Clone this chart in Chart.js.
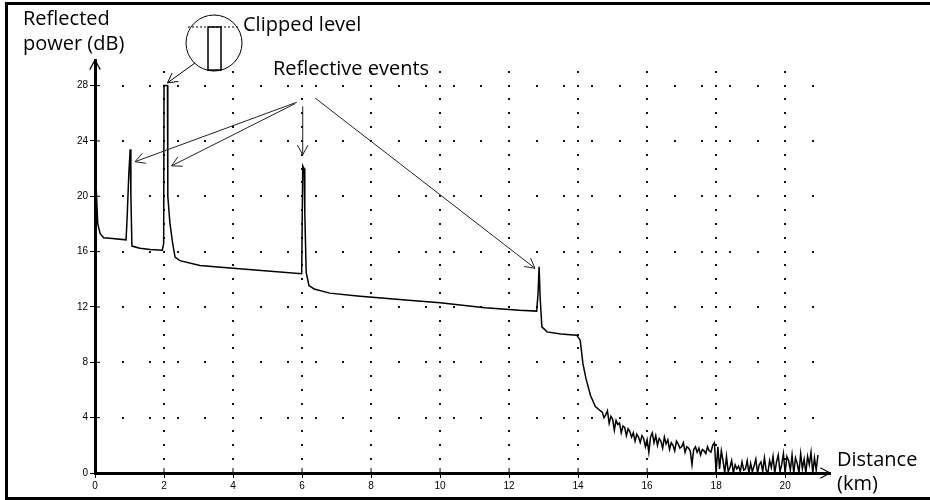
<!DOCTYPE html>
<html>
<head>
<meta charset="utf-8">
<title>OTDR trace</title>
<script src="https://cdn.jsdelivr.net/npm/chart.js@4.4.0/dist/chart.umd.min.js"></script>
<style>
    html, body { margin: 0; padding: 0; background: #fff; }
</style>
</head>
<body>
<canvas id="otdrChart" width="930" height="500"></canvas>
<script>
// Trace: distance (km) / reflected power (dB)
const traceKm = [0.00, 0.03, 0.08, 0.15, 0.25, 0.50, 0.90, 0.93, 0.98, 1.02, 1.04, 1.07, 1.30, 1.60, 1.95, 1.99,
    2.00, 2.10, 2.11, 2.17, 2.25, 2.32, 2.46, 3.04, 4.00, 5.00, 5.99, 6.02, 6.06, 6.08, 6.12, 6.20, 6.35, 6.80,
    7.60, 9.00, 10.00, 11.30, 12.30, 12.80, 12.84, 12.87, 12.90, 12.95, 13.10, 13.50, 13.96, 14.06, 14.14,
    14.23, 14.36, 14.50, 14.64];
const traceDb = [22.2, 20.9, 18.0, 17.3, 17.0, 16.95, 16.85, 18.4, 21.6, 23.4, 20.0, 16.4, 16.25, 16.15, 16.1, 16.6,
    28.0, 28.0, 20.0, 18.1, 16.6, 15.6, 15.35, 15.0, 14.8, 14.6, 14.4, 22.2, 22.0, 18.8, 14.5, 13.55, 13.3, 13.0,
    12.8, 12.5, 12.3, 11.95, 11.76, 11.7, 13.0, 14.9, 12.7, 10.56, 10.2, 10.05, 9.96, 9.6, 7.9,
    6.8, 5.6, 4.8, 4.5];

// Noisy tail after the fibre end
const noiseKm = [
    14.70, 14.75, 14.80, 14.85, 14.90, 14.95, 15.00, 15.05, 15.10, 15.15,
    15.20, 15.25, 15.30, 15.35, 15.40, 15.45, 15.50, 15.55, 15.60, 15.65,
    15.70, 15.75, 15.80, 15.85, 15.90, 15.95, 16.00, 16.05, 16.10, 16.15,
    16.20, 16.25, 16.30, 16.35, 16.40, 16.45, 16.50, 16.55, 16.60, 16.65,
    16.70, 16.75, 16.80, 16.85, 16.90, 16.95, 17.00, 17.05, 17.10, 17.15,
    17.20, 17.25, 17.30, 17.35, 17.40, 17.45, 17.50, 17.55, 17.60, 17.65,
    17.70, 17.75, 17.80, 17.85, 17.90, 17.95, 18.00, 18.05, 18.10, 18.15,
    18.20, 18.25, 18.30, 18.35, 18.40, 18.45, 18.50, 18.55, 18.60, 18.65,
    18.70, 18.75, 18.80, 18.85, 18.90, 18.95, 19.00, 19.05, 19.10, 19.15,
    19.20, 19.25, 19.30, 19.35, 19.40, 19.45, 19.50, 19.55, 19.60, 19.65,
    19.70, 19.75, 19.80, 19.85, 19.90, 19.95, 20.00, 20.05, 20.10, 20.15,
    20.20, 20.25, 20.30, 20.35, 20.40, 20.45, 20.50, 20.55, 20.60, 20.65,
    20.70, 20.75, 20.80, 20.85, 20.90, 20.95];
const noiseDb = [
    4.4, 4.0, 4.2, 4.5, 3.6, 4.1, 3.9, 3.1, 3.8, 3.5,
    3.6, 2.9, 3.4, 3.3, 2.7, 3.2, 3.0, 2.6, 2.9, 2.3,
    2.8, 2.6, 2.2, 2.7, 2.5, 1.9, 2.4, 1.5, 2.6, 2.9,
    2.2, 2.7, 2.0, 2.5, 2.3, 1.8, 2.6, 2.1, 2.4, 1.7,
    2.2, 2.0, 1.6, 2.3, 2.1, 1.8, 1.9, 2.2, 1.5, 1.9,
    1.8, 1.6, 0.6, 1.7, 1.9, 1.5, 1.8, 1.3, 1.7, 1.6,
    1.4, 1.9, 1.6, 1.5, 2.0, 2.2, 0.0, 1.9, 0.3, 1.6,
    0.9, 0.0, 1.2, 0.1, 0.4, 0.9, 0.0, 0.6, 0.3, 0.5,
    0.1, 0.8, 0.2, 0.3, 0.9, 0.0, 0.7, 0.1, 0.5, 1.0,
    0.0, 0.6, 0.8, 0.1, 1.1, 0.2, 0.0, 0.9, 0.4, 1.2,
    0.0, 0.8, 1.3, 0.1, 0.6, 1.4, 0.0, 1.2, 0.9, 0.2,
    1.3, 0.0, 1.1, 0.7, 0.0, 1.4, 0.3, 1.0, 0.0, 1.2,
    0.6, 1.5, 0.0, 1.1, 0.2, 1.3];

const xTicks = [0, 2, 4, 6, 8, 10, 12, 14, 16, 18, 20];
const yTicks = [0, 4, 8, 12, 16, 20, 24, 28];

// Callout arrows (in km / dB)
const eventArrows = [
    { from: [5.85, 26.8], to: [1.16, 22.5] },
    { from: [5.80, 26.7], to: [2.22, 22.2] },
    { from: [6.02, 26.5], to: [6.02, 23.0] },
    { from: [6.38, 27.1], to: [12.75, 14.8] }
];

const traceData = traceKm.map((km, i) => ({ x: km, y: traceDb[i] }))
    .concat(noiseKm.map((km, i) => ({ x: km, y: noiseDb[i] })));

function arrowHead(ctx, x1, y1, x2, y2, len) {
    const ang = Math.atan2(y2 - y1, x2 - x1);
    ctx.beginPath();
    ctx.moveTo(x2 - len * Math.cos(ang - 0.5), y2 - len * Math.sin(ang - 0.5));
    ctx.lineTo(x2, y2);
    ctx.lineTo(x2 - len * Math.cos(ang + 0.5), y2 - len * Math.sin(ang + 0.5));
    ctx.stroke();
}

function arrow(ctx, x1, y1, x2, y2) {
    ctx.beginPath();
    ctx.moveTo(x1, y1);
    ctx.lineTo(x2, y2);
    ctx.stroke();
    arrowHead(ctx, x1, y1, x2, y2, 11);
}

// dotted grid like the OTDR screen
const dotGrid = {
    id: 'dotGrid',
    beforeDatasetsDraw(chart) {
        const ctx = chart.ctx;
        const xs = chart.scales.x, ys = chart.scales.y;
        ctx.save();
        ctx.fillStyle = '#111';
        const dot = (px, py) => ctx.fillRect(Math.round(px) - 1, Math.round(py) - 1, 2, 2);
        xTicks.forEach(km => {
            if (km === 0) return;
            for (let db = 1; db <= 29; db++) dot(xs.getPixelForValue(km), ys.getPixelForValue(db));
        });
        yTicks.forEach(db => {
            if (db === 0) return;
            for (let k = 1; k * 0.8 <= 20.9; k++) dot(xs.getPixelForValue(k * 0.8), ys.getPixelForValue(db));
        });
        ctx.restore();
    }
};

const decorations = {
    id: 'decorations',
    afterDraw(chart) {
        const ctx = chart.ctx;
        const xs = chart.scales.x, ys = chart.scales.y;
        const area = chart.chartArea;
        const px = km => xs.getPixelForValue(km);
        const py = db => ys.getPixelForValue(db);
        ctx.save();
        ctx.strokeStyle = '#000';
        ctx.lineWidth = 1;

        // inner half of tick marks
        yTicks.forEach(v => {
            if (v === 0) return;
            ctx.beginPath();
            ctx.moveTo(area.left, py(v));
            ctx.lineTo(area.left + 5, py(v));
            ctx.stroke();
        });
        xTicks.forEach(v => {
            if (v === 0) return;
            ctx.beginPath();
            ctx.moveTo(px(v), area.bottom);
            ctx.lineTo(px(v), area.bottom - 5);
            ctx.stroke();
        });

        // axis arrows
        ctx.lineWidth = 1.2;
        arrowHead(ctx, area.left, area.top + 20, area.left, area.top, 11);
        arrowHead(ctx, area.right - 20, area.bottom, area.right, area.bottom, 11);

        // event callouts
        ctx.lineWidth = 1;
        ctx.strokeStyle = '#222';
        eventArrows.forEach(a => arrow(ctx, px(a.from[0]), py(a.from[1]), px(a.to[0]), py(a.to[1])));

        // clipped level magnifier
        ctx.strokeStyle = '#000';
        ctx.beginPath();
        ctx.arc(214, 43, 28, 0, Math.PI * 2);
        ctx.stroke();
        ctx.setLineDash([2, 2]);
        ctx.beginPath();
        ctx.moveTo(188, 27);
        ctx.lineTo(240, 27);
        ctx.stroke();
        ctx.setLineDash([]);
        ctx.lineWidth = 1.5;
        ctx.strokeRect(208, 27, 13, 43);
        ctx.lineWidth = 1;
        arrow(ctx, 195, 63, px(2.1), py(28.2));

        // texts
        ctx.fillStyle = '#000';
        ctx.font = '20px "Open Sans"';
        ctx.textAlign = 'left';
        ctx.textBaseline = 'alphabetic';
        ctx.fillText('Reflected', 23, 25);
        ctx.fillText('power (dB)', 23, 50);
        ctx.fillText('Clipped level', 243, 31);
        ctx.fillText('Reflective events', 273, 75);
        ctx.fillText('Distance', 837, 466);
        ctx.fillText('(km)', 837, 490);

        // outer frame
        ctx.lineWidth = 3;
        ctx.beginPath();
        ctx.moveTo(6.5, 500);
        ctx.lineTo(6.5, 3.5);
        ctx.lineTo(930, 3.5);
        ctx.moveTo(5, 498.5);
        ctx.lineTo(930, 498.5);
        ctx.stroke();
        ctx.restore();
    }
};

const tickFont = { family: '"Liberation Sans", Arial, sans-serif', size: 10 };

new Chart(document.getElementById('otdrChart'), {
    type: 'scatter',
    data: {
        datasets: [{
            data: traceData,
            showLine: true,
            borderColor: '#000',
            borderWidth: 1.5,
            pointRadius: 0,
            tension: 0
        }]
    },
    options: {
        responsive: false,
        animation: false,
        layout: { padding: { top: 60, right: 100, left: 0, bottom: 0 } },
        plugins: {
            legend: { display: false },
            tooltip: { enabled: false }
        },
        scales: {
            x: {
                type: 'linear',
                min: 0,
                max: 21.3,
                afterBuildTicks: scale => { scale.ticks = xTicks.map(v => ({ value: v })); },
                afterFit: scale => { scale.height = 27; },
                ticks: { color: '#000', font: tickFont, padding: 2, maxRotation: 0 },
                grid: { drawOnChartArea: false, tickLength: 5, tickColor: '#000' },
                border: { color: '#000', width: 3 }
            },
            y: {
                type: 'linear',
                min: 0,
                max: 29.85,
                afterBuildTicks: scale => { scale.ticks = yTicks.map(v => ({ value: v })); },
                afterFit: scale => { scale.width = 95; },
                ticks: { color: '#000', font: tickFont, padding: 2 },
                grid: { drawOnChartArea: false, tickLength: 5, tickColor: '#000' },
                border: { color: '#000', width: 3 }
            }
        }
    },
    plugins: [dotGrid, decorations]
});
</script>
</body>
</html>
